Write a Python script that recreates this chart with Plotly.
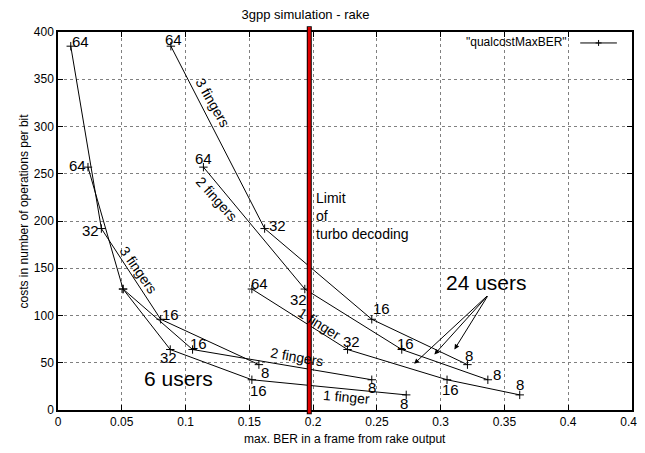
import plotly.graph_objects as go

# ---------------- data ----------------
oversampling = ["64", "32", "16", "8"]

cost_1finger = [128, 64, 32, 16]
cost_2fingers = [257, 128, 64, 32]
cost_3fingers = [385, 192, 96, 48]

ber_6users_1finger = [0.051, 0.088, 0.152, 0.273]
ber_6users_2fingers = [0.0235, 0.051, 0.1055, 0.246]
ber_6users_3fingers = [0.010, 0.034, 0.0805, 0.1575]

ber_24users_1finger = [0.152, 0.227, 0.305, 0.362]
ber_24users_2fingers = [0.114, 0.1935, 0.2695, 0.337]
ber_24users_3fingers = [0.0885, 0.162, 0.246, 0.321]

turbo_limit_ber = 0.197

x_ticks = [0, 0.05, 0.1, 0.15, 0.2, 0.25, 0.3, 0.35, 0.4, 0.45]
y_ticks = [0, 50, 100, 150, 200, 250, 300, 350, 400]

# arrows "24 users": from one origin to three targets
arrow_origin = (0.3375, 122)
arrow_targets_x = [0.2792, 0.2951, 0.3108]
arrow_targets_y = [49, 58.8, 64.1]

# ---------------- styling ----------------
FONT = "Liberation Sans, Arial, Helvetica, sans-serif"
PAGE_PAD = 8  # default body margin of the html page

series = [
    (ber_6users_1finger, cost_1finger, [None, (-2, 8), (7, 11), (-2, 9)]),
    (ber_6users_2fingers, cost_2fingers, [(-10, -2), None, (6, -6), (0, 8)]),
    (ber_6users_3fingers, cost_3fingers, [(10, -5), (-11, 2), (10, -5), (6, 8)]),
    (ber_24users_1finger, cost_1finger, [(8, -6), (4, -8), (3, 10), (0, -10)]),
    (ber_24users_2fingers, cost_2fingers, [(0, -9), (-6, 10), (4, -6), (9, -5)]),
    (ber_24users_3fingers, cost_3fingers, [(3, -7), (13, -3), (10, -11), (2, -9)]),
]

fig = go.Figure()
annotations = []

for xs, ys, offs in series:
    fig.add_trace(go.Scatter(
        x=xs, y=ys, mode="lines+markers",
        line=dict(color="black", width=1),
        marker=dict(symbol="cross-thin", size=6, color="black",
                    line=dict(color="black", width=1)),
        showlegend=False, hoverinfo="x+y",
    ))
    for x, y, lab, off in zip(xs, ys, oversampling, offs):
        if off is None:
            continue
        annotations.append(dict(
            x=x, y=y, xref="x", yref="y", text=lab, showarrow=False,
            xshift=off[0], yshift=-off[1],
            font=dict(family=FONT, size=15, color="black"),
        ))

# rotated finger labels: (x, y, text, angle)
finger_labels = [
    (0.0633, 148.5, "3 fingers", 55),
    (0.1217, 325.3, "3 fingers", 60),
    (0.1246, 223.4, "2 fingers", 48),
    (0.2054, 91.5, "1 finger", 32),
    (0.1877, 55.6, "2 fingers", 10),
    (0.2264, 13.9, "1 finger", 5),
]
for x, y, t, a in finger_labels:
    annotations.append(dict(
        x=x, y=y, xref="x", yref="y", text=t, showarrow=False,
        textangle=a, font=dict(family=FONT, size=14, color="black"),
    ))

annotations += [
    dict(x=0.0941, y=32.9, xref="x", yref="y", text="6 users", showarrow=False,
         font=dict(family=FONT, size=21, color="black")),
    dict(x=0.3363, y=135.3, xref="x", yref="y", text="24 users", showarrow=False,
         font=dict(family=FONT, size=21, color="black")),
    dict(x=0.2009, y=205.5, xref="x", yref="y", text="Limit<br>of<br>turbo decoding",
         showarrow=False, xanchor="left", align="left", yanchor="middle",
         font=dict(family=FONT, size=14, color="black")),
]

for tx, ty in zip(arrow_targets_x, arrow_targets_y):
    annotations.append(dict(
        x=tx, y=ty, xref="x", yref="y", ax=arrow_origin[0], ay=arrow_origin[1],
        axref="x", ayref="y", text="", showarrow=True, arrowhead=2,
        arrowsize=1, arrowwidth=1, arrowcolor="black", standoff=0,
    ))

# axis titles
annotations += [
    dict(x=0.5, y=-(439.5 - 410.7) / 379, xref="paper", yref="paper", yanchor="middle",
         text="max. BER in a frame from rake output", showarrow=False,
         font=dict(family=FONT, size=12, color="black")),
    dict(x=(15 - 58.3) / 573.4, y=(410.7 - 211) / 379, xref="paper", yref="paper",
         text="costs in number of operations per bit", showarrow=False, textangle=-90,
         font=dict(family=FONT, size=12, color="black")),
]

# manual legend (gnuplot style: text then sample)
annotations.append(dict(
    x=0.8894, y=0.9728, xref="paper", yref="paper", xanchor="right", yanchor="middle",
    text='"qualcostMaxBER"', showarrow=False,
    font=dict(family=FONT, size=12, color="black"),
))

shapes = [
    # legend sample
    dict(type="line", xref="paper", yref="paper", x0=0.9098, x1=0.9737, y0=0.9710, y1=0.9710,
         line=dict(color="black", width=1)),
    dict(type="line", xref="paper", yref="paper", x0=0.9418 - 0.0052, x1=0.9418 + 0.0052,
         y0=0.9710, y1=0.9710, line=dict(color="black", width=1)),
    dict(type="line", xref="paper", yref="paper", x0=0.9418, x1=0.9418,
         y0=0.9710 - 0.0079, y1=0.9710 + 0.0079, line=dict(color="black", width=1)),
    # turbo decoding limit
    dict(type="line", xref="x", yref="paper", x0=turbo_limit_ber, x1=turbo_limit_ber,
         y0=-0.011, y1=1.015, line=dict(color="black", width=5), layer="above"),
    dict(type="line", xref="x", yref="paper", x0=turbo_limit_ber, x1=turbo_limit_ber,
         y0=-0.009, y1=1.013, line=dict(color="#e00000", width=3), layer="above"),
]

axis_common = dict(
    showline=True, linecolor="black", linewidth=1.5, mirror="allticks",
    ticks="inside", ticklen=5, tickcolor="black", tickwidth=1,
    showgrid=True, gridcolor="#808080", griddash="dot", gridwidth=1,
    zeroline=False, automargin=False, ticklabeloverflow="allow",
    tickfont=dict(family=FONT, size=12, color="black"),
)

# figure sized so the page (with its 8px body margin) never scrolls
W, H = 645 - PAGE_PAD, 453 - 2 * PAGE_PAD
fig.update_layout(
    width=W, height=H,
    margin=dict(l=58 - PAGE_PAD, r=13, t=32 - PAGE_PAD, b=H - (410.7 - PAGE_PAD) + 0.3,
                autoexpand=False),
    paper_bgcolor="white", plot_bgcolor="white",
    title=dict(text="3gpp simulation - rake", xref="container",
               x=(305.5 - PAGE_PAD) / W, xanchor="center",
               y=1 - (14.5 - PAGE_PAD) / H, yanchor="middle",
               font=dict(family=FONT, size=13, color="black")),
    xaxis=dict(range=[0, 0.45001], tickvals=x_ticks,
               ticktext=[f"{v:g}" for v in x_ticks], **axis_common),
    yaxis=dict(range=[0, 400.01], tickvals=y_ticks,
               ticktext=[str(v) for v in y_ticks], **axis_common),
    annotations=annotations,
    shapes=shapes,
    showlegend=False,
)

fig.write_html("out.html")
